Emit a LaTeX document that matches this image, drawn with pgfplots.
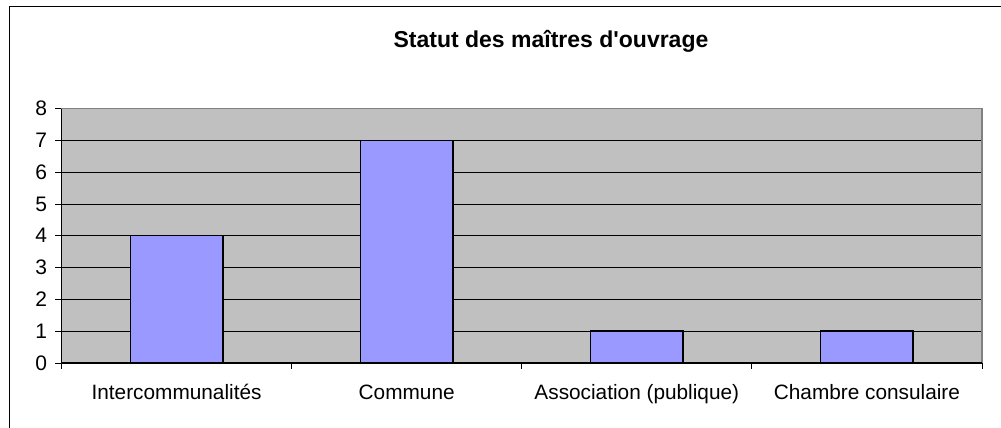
\documentclass[border=0pt]{standalone}
\usepackage{pgfplots}
\pgfplotsset{compat=1.18}
\usepackage{fontspec}
\setmainfont{Liberation Sans}
\newfontfamily\titlefont{Liberation Sans}[Ligatures=TeXOff]
\definecolor{plotbg}{HTML}{C0C0C0}
\definecolor{barfill}{HTML}{9999FF}
\definecolor{bordergray}{HTML}{808080}
\begin{document}
\begin{tikzpicture}[x=1pt,y=1pt]
\useasboundingbox (0,0) rectangle (1001,428);
\fill[white] (0,0) rectangle (1001,428);
\draw[black, line width=1pt] (9,-2) -- (9,421) -- (1003,421);
\node[font=\titlefont\fontsize{23}{27}\selectfont\bfseries] at (551,386.5) {Statut des maîtres d'ouvrage};
\begin{axis}[
  at={(61.5pt,65pt)}, anchor=south west, scale only axis,
  width=920.5pt, height=254.5pt,
  xmin=-0.5, xmax=3.5, ymin=0, ymax=8,
  ytick={0,1,2,3,4,5,6,7,8},
  xtick={-0.5,0.5,1.5,2.5,3.5}, xticklabels={},
  extra x ticks={0,1,2,3},
  extra x tick labels={Intercommunalités,Commune,Association (publique),Chambre consulaire},
  extra x tick style={major tick length=0pt},
  xtick pos=bottom, ytick pos=left,
  tick align=outside, major tick length=6pt,
  tick style={black, line width=0.8pt},
  ymajorgrids, major grid style={black, line width=0.8pt},
  axis background/.style={fill=plotbg},
  axis line style={draw=none},
  /pgf/number format/assume math mode=true,
  yticklabel style={font=\fontsize{21}{24}\selectfont, xshift=-5pt},
  xticklabel style={font=\fontsize{20.8}{24}\selectfont, yshift=-18pt},
  clip=false,
]
\addplot[ybar, bar width=92.5pt, fill=barfill, draw=black, line width=1.4pt] coordinates {(0,4) (1,7) (2,1) (3,1)};
\draw[bordergray, line width=1.2pt] (rel axis cs:0,1) -- (rel axis cs:1,1) -- (rel axis cs:1,0);
\draw[black, line width=1pt] (rel axis cs:0,1) -- (rel axis cs:0,0) -- (rel axis cs:1,0);
\end{axis}
\end{tikzpicture}
\end{document}
